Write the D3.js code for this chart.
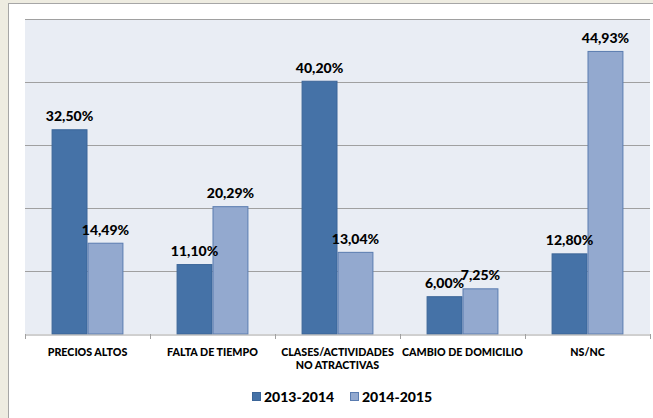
<!DOCTYPE html>
<html>
<head>
<meta charset="utf-8">
<script src="https://cdn.jsdelivr.net/npm/d3@7"></script>
<style>
  body { margin: 0; background: #eeece1; }
  svg { display: block; font-family: Lato, "Liberation Sans", sans-serif; }
</style>
</head>
<body>
<div id="chart"></div>
<script>
// data
const categories = ["PRECIOS ALTOS", "FALTA DE TIEMPO", "CLASES/ACTIVIDADES\nNO ATRACTIVAS", "CAMBIO DE DOMICILIO", "NS/NC"];
const series = ["2013-2014", "2014-2015"];
const values2013 = [32.50, 11.10, 40.20, 6.00, 12.80];
const values2014 = [14.49, 20.29, 13.04, 7.25, 44.93];
const yTicks = [0, 10, 20, 30, 40, 50];

const width = 653, height = 418;
const plot = { left: 25, right: 650, top: 19, bottom: 334 };
const fills = ["#4572a7", "#93a9cf"];
const strokes = ["#3b6598", "#5a7cb0"];

const svg = d3.select("#chart").append("svg")
  .attr("width", width)
  .attr("height", height);

// white chart panel
svg.append("rect")
  .attr("x", 8.5).attr("y", 3.5)
  .attr("width", width).attr("height", height + 10)
  .attr("fill", "#fff")
  .attr("stroke", "#a6a6a6");

// plot background
svg.append("rect")
  .attr("x", plot.left).attr("y", plot.top)
  .attr("width", plot.right - plot.left).attr("height", plot.bottom - plot.top)
  .attr("fill", "#e9edf4");

const x0 = d3.scaleBand()
  .domain(categories)
  .range([plot.left, plot.right]);

const x1 = d3.scaleBand()
  .domain(series)
  .range([0, x0.bandwidth()])
  .paddingOuter(0.74)
  .paddingInner(0);

const y = d3.scaleLinear()
  .domain([0, 50])
  .range([plot.bottom, plot.top]);

// gridlines
svg.append("g")
  .selectAll("line")
  .data(yTicks.slice(1))
  .join("line")
  .attr("x1", plot.left).attr("x2", plot.right)
  .attr("y1", d => Math.round(y(d)) + 0.5)
  .attr("y2", d => Math.round(y(d)) + 0.5)
  .attr("stroke", "#a0a0a0");

const rows = categories.map((c, i) => ({ cat: c, vals: [values2013[i], values2014[i]] }));

const groups = svg.append("g")
  .selectAll("g")
  .data(rows)
  .join("g")
  .attr("transform", d => "translate(" + x0(d.cat) + ",0)");

groups.selectAll("rect")
  .data(d => d.vals.map((v, j) => ({ s: series[j], v: v, j: j })))
  .join("rect")
  .attr("x", d => x1(d.s) + 0.5)
  .attr("y", d => y(d.v) + 0.5)
  .attr("width", x1.bandwidth() - 1)
  .attr("height", d => plot.bottom - y(d.v) - 0.5)
  .attr("fill", d => fills[d.j])
  .attr("stroke", d => strokes[d.j]);

groups.selectAll("text")
  .data(d => d.vals.map((v, j) => ({ s: series[j], v: v })))
  .join("text")
  .attr("x", d => x1(d.s) + x1.bandwidth() / 2)
  .attr("y", d => y(d.v) - 8)
  .attr("text-anchor", "middle")
  .attr("font-size", 14)
  .attr("font-weight", 900)
  .attr("fill", "#000")
  .text(d => d3.format(".2f")(d.v).replace(".", ",") + "%");

// x axis
const xAxis = d3.axisBottom(x0).tickSize(0).tickFormat("");
const ax = svg.append("g")
  .attr("transform", "translate(0," + (plot.bottom + 0.5) + ")")
  .call(xAxis);
ax.select(".domain").attr("stroke", "#a0a0a0");

// tick marks at group boundaries
svg.append("g")
  .selectAll("line")
  .data(categories.map(c => x0(c)).concat([plot.right]))
  .join("line")
  .attr("x1", d => Math.round(d) + 0.5).attr("x2", d => Math.round(d) + 0.5)
  .attr("y1", plot.bottom).attr("y2", plot.bottom + 5)
  .attr("stroke", "#a0a0a0");

// category labels
svg.append("g")
  .selectAll("text")
  .data(categories)
  .join("text")
  .attr("x", d => x0(d) + x0.bandwidth() / 2)
  .attr("y", plot.bottom + 22)
  .attr("text-anchor", "middle")
  .attr("font-size", 10.7)
  .attr("font-weight", 900)
  .attr("fill", "#000")
  .selectAll("tspan")
  .data(d => d.split("\n"))
  .join("tspan")
  .attr("x", function () { return d3.select(this.parentNode).attr("x"); })
  .attr("dy", (d, i) => i === 0 ? 0 : 13)
  .text(d => d);

// legend
const legend = svg.append("g");
const legendX = [252, 350];
series.forEach((s, j) => {
  legend.append("rect")
    .attr("x", legendX[j] + 0.5).attr("y", 392.5)
    .attr("width", 8).attr("height", 8)
    .attr("fill", fills[j])
    .attr("stroke", strokes[j]);
  legend.append("text")
    .attr("x", legendX[j] + 12).attr("y", 401.5)
    .attr("font-size", 14)
    .attr("font-weight", 900)
    .attr("fill", "#000")
    .text(s);
});
</script>
</body>
</html>
